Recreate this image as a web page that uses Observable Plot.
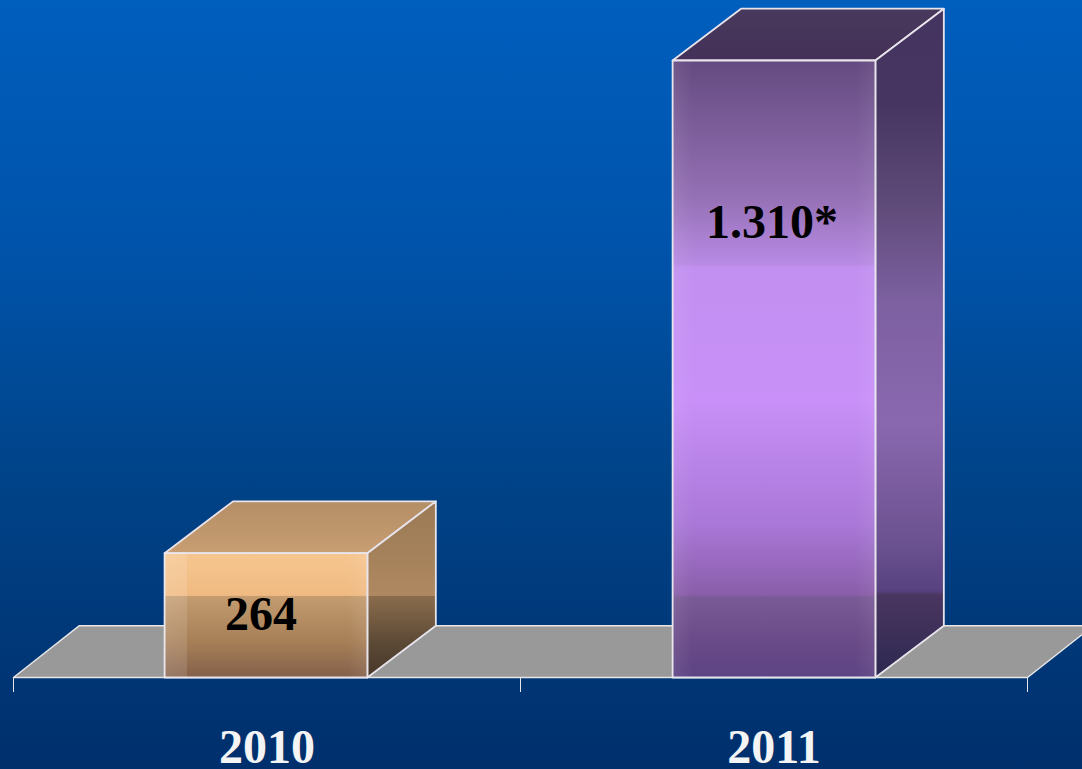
<!DOCTYPE html>
<html>
<head>
<meta charset="utf-8">
<script src="https://cdn.jsdelivr.net/npm/d3@7"></script>
<script src="https://cdn.jsdelivr.net/npm/@observablehq/plot@0.6"></script>
<style>
html,body{margin:0;padding:0;overflow:hidden;background:#003070}
svg{display:block}
</style>
</head>
<body>
<div id="chart"></div>
<script>
const years = ["2010", "2011"];
const values = [264, 1310];
const valueLabels = ["264", "1.310*"];
const tickPositions = [-0.5, 0.5, 1.5];

const halfBar = 0.2, depthX = 0.135, depthY = 110;
const floorMin = -0.5, floorMax = 1.5, floorDepthX = 0.13;
const barCentres = [-0.002, 1];

const point = (x, y, face, id) => ({x, y, face: id + "-" + face, fill: `url(#${id}-${face})`});
const faces = values.flatMap((v, i) => {
  const a = barCentres[i] - halfBar, b = barCentres[i] + halfBar, id = "bar" + i;
  return [
    ...[[a, v], [b, v], [b + depthX, v + depthY], [a + depthX, v + depthY]].map(([x, y]) => point(x, y, "top", id)),
    ...[[b, 0], [b + depthX, depthY], [b + depthX, v + depthY], [b, v]].map(([x, y]) => point(x, y, "side", id)),
    ...[[a, 0], [b, 0], [b, v], [a, v]].map(([x, y]) => point(x, y, "front", id))
  ];
});
const sheen = values.flatMap((v, i) => {
  const a = barCentres[i] - halfBar, b = barCentres[i] + halfBar;
  return [[a, 0], [b, 0], [b, v], [a, v]].map(([x, y]) => ({x, y, face: "sheen" + i, fill: `url(#bar${i}-sheen)`}));
});
const floor = [[floorMin, 0], [floorMax, 0], [floorMax + floorDepthX, depthY], [floorMin + floorDepthX, depthY]]
  .map(([x, y]) => ({x, y}));

const gradients = {
  "bar0-front": [[0, "#f6c690"], [0.34, "#f0ba82"], [0.345, "#c49c70"], [0.7, "#a88058"], [1, "#84604a"]],
  "bar0-side": [[0, "#9a7a55"], [0.535, "#ae8860"], [0.54, "#8a6c4c"], [0.8, "#5c4a36"], [1, "#463628"]],
  "bar0-top": [[0, "#b48e66"], [1, "#c89e72"]],
  "bar1-front": [[0, "#644a80"], [0.22, "#9470b4"], [0.33, "#b88ae4"], [0.335, "#c290f0"], [0.55, "#c890f8"], [0.75, "#aa78d8"], [0.865, "#8a5eaa"], [0.87, "#7a5a96"], [0.94, "#6a4a88"], [1, "#5c4484"]],
  "bar1-side": [[0, "#443460"], [0.14, "#463560"], [0.287, "#5e4a78"], [0.436, "#7c60a0"], [0.616, "#8a68b0"], [0.795, "#6c5290"], [0.87, "#584280"], [0.877, "#4a3660"], [1, "#2c2850"]],
  "bar1-top": [[0, "#483a5c"], [1, "#443058"]]
};
const sheens = {
  "bar0-sheen": [[0, 0.16], [0.11, 0.12], [0.112, 0], [0.9, 0], [1, 0.08]],
  "bar1-sheen": [[0, 0.08], [0.1, 0], [0.9, 0], [1, 0.06]]
};

const defs = () => {
  const d = d3.create("svg:defs");
  for (const [id, stops] of Object.entries(gradients)) {
    const g = d.append("linearGradient").attr("id", id).attr("x1", 0).attr("y1", 0).attr("x2", 0).attr("y2", 1);
    for (const [o, c] of stops) g.append("stop").attr("offset", o).attr("stop-color", c);
  }
  for (const [id, stops] of Object.entries(sheens)) {
    const g = d.append("linearGradient").attr("id", id).attr("x1", 0).attr("y1", 0).attr("x2", 1).attr("y2", 0);
    for (const [o, a] of stops) g.append("stop").attr("offset", o).attr("stop-color", "#ffffff").attr("stop-opacity", a);
  }
  return d.node();
};

const serif = "'Liberation Serif', 'Times New Roman', serif";
const labelHeights = [0.507, 0.737];
const labelOptions = i => ({
  x: () => i,
  y: d => d * labelHeights[i],
  text: () => valueLabels[i],
  fill: "black",
  fontFamily: serif,
  fontWeight: "bold",
  fontSize: 48,
  dx: i === 0 ? -6 : -2
});

const chart = Plot.plot({
  width: 1082,
  height: 769,
  marginLeft: 13,
  marginRight: 55,
  marginTop: 60,
  marginBottom: 92,
  style: {background: "linear-gradient(#005ebd 0%, #0052a8 35%, #004388 62%, #002f6c 100%)", overflow: "hidden"},
  x: {domain: [floorMin, floorMax], axis: null},
  y: {domain: [0, 1310], axis: null},
  marks: [
    defs,
    Plot.line(floor, {x: "x", y: "y", curve: "linear-closed", fill: "#999999", stroke: "#e6e6e6", strokeWidth: 1.5}),
    Plot.axisX({ticks: tickPositions, tickSize: 15, tickFormat: () => "", stroke: "#e6e6e6", label: null}),
    Plot.line(faces, {
      x: "x", y: "y", z: "face",
      curve: "linear-closed",
      fill: {value: "fill", scale: null},
      stroke: "#e8e4ec",
      strokeWidth: 1.8,
      strokeLinejoin: "round"
    }),
    Plot.line(sheen, {
      x: "x", y: "y", z: "face",
      curve: "linear-closed",
      fill: {value: "fill", scale: null},
      stroke: "none"
    }),
    Plot.text([values[0]], labelOptions(0)),
    Plot.text([values[1]], labelOptions(1)),
    Plot.text(years, {
      x: (d, i) => i,
      y: 0,
      dy: 70,
      text: d => d,
      fill: "#f4f4f4",
      fontFamily: serif,
      fontWeight: "bold",
      fontSize: 48
    })
  ]
});
document.getElementById("chart").append(chart);
</script>
</body>
</html>
